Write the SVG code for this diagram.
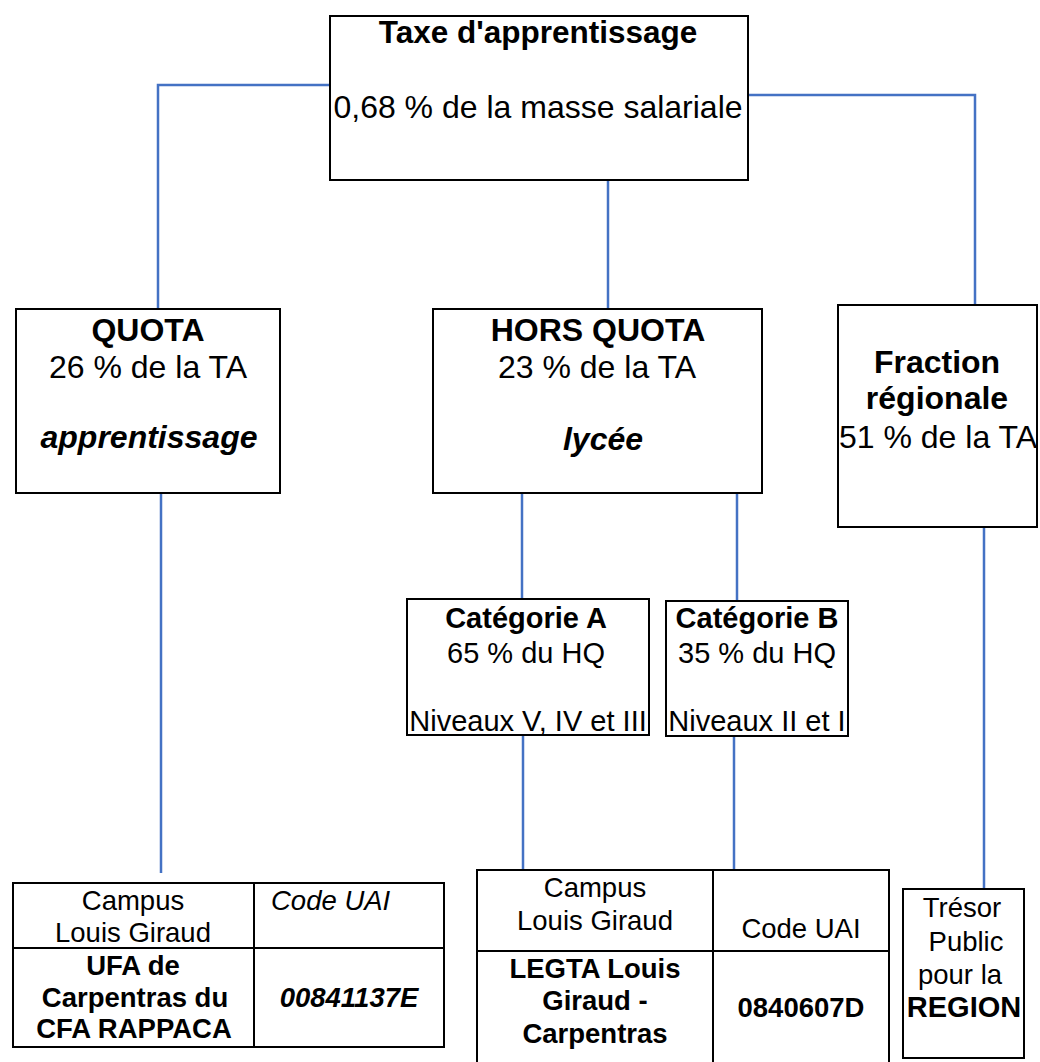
<svg xmlns="http://www.w3.org/2000/svg" width="1040" height="1062" viewBox="0 0 1040 1062">
<style>
text{font-family:"Liberation Sans",Arial,sans-serif;fill:#000;}
.box{fill:#fff;stroke:#000;stroke-width:2;}
.conn{fill:none;stroke:#4472C4;stroke-width:2.5;}
.c{text-anchor:middle;}
.b{font-weight:bold;}
.i{font-style:italic;}
.f32{font-size:32px;}
.f28{font-size:29px;}
.f27{font-size:27.5px;}
</style>
<rect width="1040" height="1062" fill="#fff"/>
<g id="connectors">
<polyline class="conn" points="330,85 158,85 158,309"/>
<line class="conn" x1="608" y1="180" x2="608" y2="309"/>
<polyline class="conn" points="748,95 975,95 975,305"/>
<line class="conn" x1="161" y1="493" x2="161" y2="873"/>
<line class="conn" x1="522" y1="493" x2="522" y2="599"/>
<line class="conn" x1="737" y1="493" x2="737" y2="601"/>
<line class="conn" x1="523" y1="735" x2="523" y2="870"/>
<line class="conn" x1="734" y1="736" x2="734" y2="870"/>
<line class="conn" x1="984" y1="527" x2="984" y2="889"/>
</g>
<g id="taxe">
<rect class="box" x="330" y="16" width="418" height="164"/>
<text class="c b" x="538" y="43" style="font-size:31.5px">Taxe d'apprentissage</text>
<text class="c f32" x="538" y="118">0,68 % de la masse salariale</text>
</g>
<g id="quota">
<rect class="box" x="16" y="309" width="264" height="184"/>
<text class="c b f32" x="148" y="341">QUOTA</text>
<text class="c f32" x="148" y="378">26 % de la TA</text>
<text class="c b i f32" x="149" y="448">apprentissage</text>
</g>
<g id="hors-quota">
<rect class="box" x="433" y="309" width="329" height="184"/>
<text class="c b f32" x="598" y="341">HORS QUOTA</text>
<text class="c f32" x="597" y="378">23 % de la TA</text>
<text class="c b i f32" x="603" y="450">lycée</text>
</g>
<g id="fraction">
<rect class="box" x="838" y="305" width="199" height="222"/>
<text class="c b f32" x="937" y="373">Fraction</text>
<text class="c b f32" x="937" y="409">régionale</text>
<text class="c f32" x="938" y="448">51 % de la TA</text>
</g>
<g id="cat-a">
<rect class="box" x="407" y="599" width="242" height="136"/>
<text class="c b f28" x="526" y="628">Catégorie A</text>
<text class="c f28" x="526" y="663">65 % du HQ</text>
<text class="c f28" x="528" y="731">Niveaux V, IV et III</text>
</g>
<g id="cat-b">
<rect class="box" x="666" y="601" width="182" height="135"/>
<text class="c b f28" x="757" y="628">Catégorie B</text>
<text class="c f28" x="757" y="663">35 % du HQ</text>
<text class="c f28" x="757" y="731">Niveaux II et I</text>
</g>
<g id="ufa-table">
<rect class="box" x="13" y="883" width="431" height="164"/>
<line x1="13" y1="948" x2="444" y2="948" stroke="#000" stroke-width="2"/>
<line x1="254" y1="883" x2="254" y2="1047" stroke="#000" stroke-width="2"/>
<text class="c f27" x="133" y="910">Campus</text>
<text class="c f27" x="133" y="942">Louis Giraud</text>
<text class="i f27" x="271" y="910">Code UAI</text>
<text class="c b f27" x="133" y="975">UFA de</text>
<text class="c b f27" x="135" y="1007">Carpentras du</text>
<text class="c b f27" x="134" y="1038">CFA RAPPACA</text>
<text class="c b i f27" x="349" y="1007">00841137E</text>
</g>
<g id="legta-table">
<rect class="box" x="477" y="870" width="412" height="198"/>
<line x1="477" y1="951" x2="889" y2="951" stroke="#000" stroke-width="2"/>
<line x1="713" y1="870" x2="713" y2="1068" stroke="#000" stroke-width="2"/>
<text class="c f27" x="595" y="897">Campus</text>
<text class="c f27" x="595" y="930">Louis Giraud</text>
<text class="c f27" x="801" y="938">Code UAI</text>
<text class="c b f27" x="595" y="978">LEGTA Louis</text>
<text class="c b f27" x="595" y="1010">Giraud -</text>
<text class="c b f27" x="595" y="1043">Carpentras</text>
<text class="c b f27" x="801" y="1017">0840607D</text>
</g>
<g id="tresor">
<rect class="box" x="903" y="889" width="121" height="169"/>
<text class="c f27" x="962" y="917">Trésor</text>
<text class="c f27" x="966" y="951">Public</text>
<text class="c f27" x="960" y="984">pour la</text>
<text class="c b" x="964" y="1017" style="font-size:29px">REGION</text>
</g>
</svg>
